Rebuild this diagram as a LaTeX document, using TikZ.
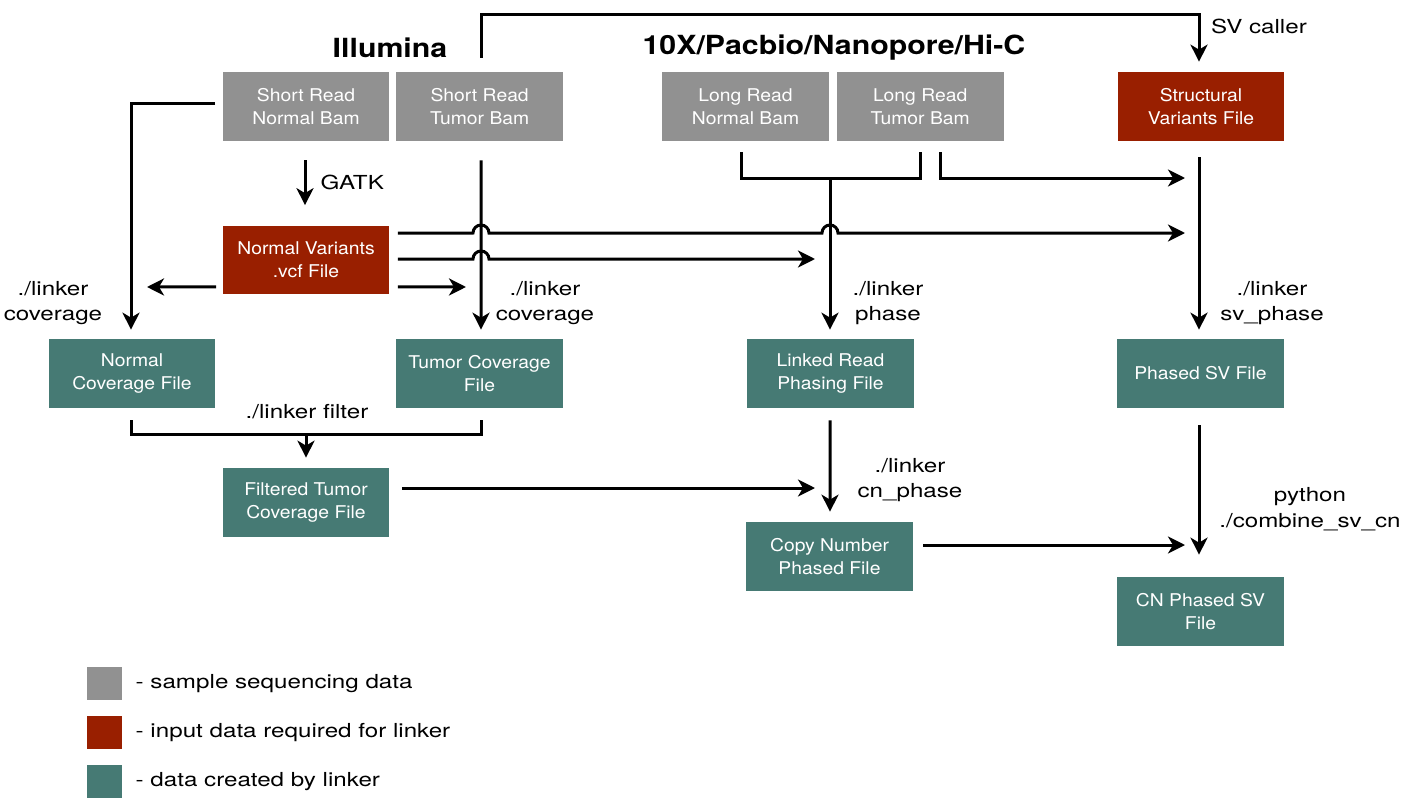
\documentclass[tikz,border=0pt]{standalone}
\usepackage{fontspec}
\setmainfont{TeX Gyre Heros}
\newfontfamily\boxfont[FakeStretch=1.1]{TeX Gyre Heros}
\newfontfamily\labelfont[FakeStretch=1.25]{TeX Gyre Heros}
\newfontfamily\platformfont[FakeStretch=1.15]{TeX Gyre Heros}
\usetikzlibrary{arrows.meta}
\usetikzlibrary{positioning}
\usetikzlibrary{calc}

\definecolor{seqgray}{HTML}{919191}
\definecolor{inputred}{HTML}{991F00}
\definecolor{linkerteal}{HTML}{467A74}

\tikzset{
    filebox/.style={
        rectangle, minimum width=3.34cm, minimum height=1.38cm,
        inner sep=0pt, align=center, text=white,
        font=\boxfont\fontsize{10}{13}\selectfont,
    },
    seqfile/.style={filebox, fill=seqgray},
    inputfile/.style={filebox, fill=inputred},
    linkerfile/.style={filebox, fill=linkerteal},
    flow/.style={line width=0.06cm, draw=black},
    flowarrow/.style={flow, -{Stealth[length=0.34cm, width=0.34cm, inset=0.1cm]}},
    steplabel/.style={font=\labelfont\fontsize{11}{14.7}\selectfont, align=center, inner sep=0pt},
    platform/.style={font=\platformfont\fontsize{15}{18}\selectfont\bfseries, inner sep=0pt},
    keybox/.style={rectangle, minimum width=0.7cm, minimum height=0.66cm, inner sep=0pt},
}

\begin{document}
\begin{tikzpicture}[x=0.02cm, y=-0.02cm]
        \useasboundingbox (0,0) rectangle (1413,811);

        \node (illumina) at (390,48) [platform] {Illumina};
        \node (longread) at (834,48) [platform] {10X/Pacbio/Nanopore/Hi-C};

        \node (srnormal) at (306,106.5) [seqfile] {Short Read\\Normal Bam};
        \node (srtumor) [seqfile, right=0.12cm of srnormal] {Short Read\\Tumor Bam};
        \node (lrnormal) at (745.5,106.5) [seqfile] {Long Read\\Normal Bam};
        \node (lrtumor) [seqfile, right=0.14cm of lrnormal] {Long Read\\Tumor Bam};
        \node (svfile) at (1201,106.5) [inputfile] {Structural\\Variants File};

        \node (normalvcf) at (306,260) [inputfile] {Normal Variants\\.vcf File};

        \node (normalcov) at (132,373.5) [linkerfile] {Normal\\Coverage File};
        \node (tumorcov) at (479.5,373.5) [linkerfile] {Tumor Coverage\\File};
        \node (phasing) at (830.5,373.5) [linkerfile] {Linked Read\\Phasing File};
        \node (phasedsv) at (1200.5,373.5) [linkerfile] {Phased SV File};
        \node (filtered) at (306,502.5) [linkerfile] {Filtered Tumor\\Coverage File};
        \node (copynum) at (829.5,556.5) [linkerfile] {Copy Number\\Phased File};
        \node (cnsv) at (1200.5,611.5) [linkerfile] {CN Phased SV\\File};

        % legend
        \node (keyseq) at (104.5,683.5) [keybox, fill=seqgray] {};
        \node (keyinput) at (104.5,732.5) [keybox, fill=inputred] {};
        \node (keylinker) at (104.5,781.5) [keybox, fill=linkerteal] {};
        \node (keyseqtext) [steplabel, right=0.26cm of keyseq] {- sample sequencing data};
        \node (keyinputtext) [steplabel, right=0.26cm of keyinput] {- input data required for linker};
        \node (keylinkertext) [steplabel, right=0.26cm of keylinker] {- data created by linker};

        % free ends and joints
        \coordinate (svtop) at (1199,15);
        \coordinate (lrjoin) at (830,178);
        \coordinate (filtjoin) at (306,434);
        \coordinate (svinlong) at (1185,178);
        \coordinate (svinvcf) at (1185,233);
        \coordinate (phasein) at (815,259);
        \coordinate (tumorin) at (466,287);
        \coordinate (normalin) at (147,287);
        \coordinate (cnin) at (815,488);
        \coordinate (combinein) at (1185,545);

        \draw[flowarrow] ($(srtumor.north)+(1.5,-14)$) |- (svtop) -- ($(svfile.north)+(-2,-10)$);
        \node (svcaller) at (1259,26) [steplabel] {SV caller};

        \draw[flowarrow] ($(srnormal.west)+(-7,-2.5)$) -| ($(normalcov.north)+(-1,-9)$);
        \draw[flowarrow] ($(srnormal.south)+(-1,19)$) -- ($(normalvcf.north)+(-1,-20)$)
            node (gatk) [midway, right=0.28cm, steplabel] {GATK};
        \draw[flowarrow] ($(srtumor.south)+(1.5,19)$) -- ($(tumorcov.north)+(1.5,-9)$);

        \draw[flowarrow] ($(normalvcf.north east)+(8,8)$) -- (473,233)
            arc[start angle=180, end angle=0, radius=0.16cm] -- (822,233)
            arc[start angle=180, end angle=0, radius=0.16cm] -- (svinvcf);
        \draw[flowarrow] ($(normalvcf.east)+(8,-1)$) -- (473,259)
            arc[start angle=180, end angle=0, radius=0.16cm] -- (phasein);
        \draw[flowarrow] ($(normalvcf.south east)+(8,-8)$) -- (tumorin);
        \draw[flowarrow] ($(normalvcf.south west)+(-6,-8)$) -- (normalin);

        \draw[flow] ($(lrnormal.south)+(-4.5,11)$) |- ($(lrtumor.south)+(0,37)$) -- ($(lrtumor.south)+(0,11)$);
        \draw[flowarrow] (lrjoin) -- ($(phasing.north)+(-0.5,-9)$);
        \draw[flowarrow] ($(lrtumor.south)+(20,11)$) |- (svinlong);
        \draw[flowarrow] ($(svfile.south)+(-2,16)$) -- ($(phasedsv.north)+(-1.5,-9)$);

        \draw[flow] ($(normalcov.south)+(-1,12)$) |- ($(tumorcov.south)+(1.5,26)$) -- ($(tumorcov.south)+(1.5,12)$);
        \draw[flowarrow] (filtjoin) -- ($(filtered.north)+(0,-10)$);
        \draw[flowarrow] ($(filtered.east)+(12,-14.5)$) -- (cnin);
        \draw[flowarrow] ($(phasing.south)+(-0.5,12)$) -- ($(copynum.north)+(0.5,-10)$);
        \draw[flowarrow] ($(phasedsv.south)+(-1.5,17)$) -- ($(cnsv.north)+(-1.5,-22)$);
        \draw[flowarrow] ($(copynum.east)+(10,-11.5)$) -- (combinein);

        \node (covleft) at (53,303) [steplabel] {./linker\\coverage};
        \node (covright) at (545,303) [steplabel] {./linker\\coverage};
        \node (phaselbl) at (888,303) [steplabel] {./linker\\phase};
        \node (svphaselbl) at (1272,303) [steplabel] {./linker\\sv\_phase};
        \node (filterlbl) at (307,412) [steplabel] {./linker filter};
        \node (cnphaselbl) at (910,480) [steplabel] {./linker\\cn\_phase};
        \node (combinelbl) at (1310,509) [steplabel] {python\\./combine\_sv\_cn};
    \end{tikzpicture}
\end{document}
